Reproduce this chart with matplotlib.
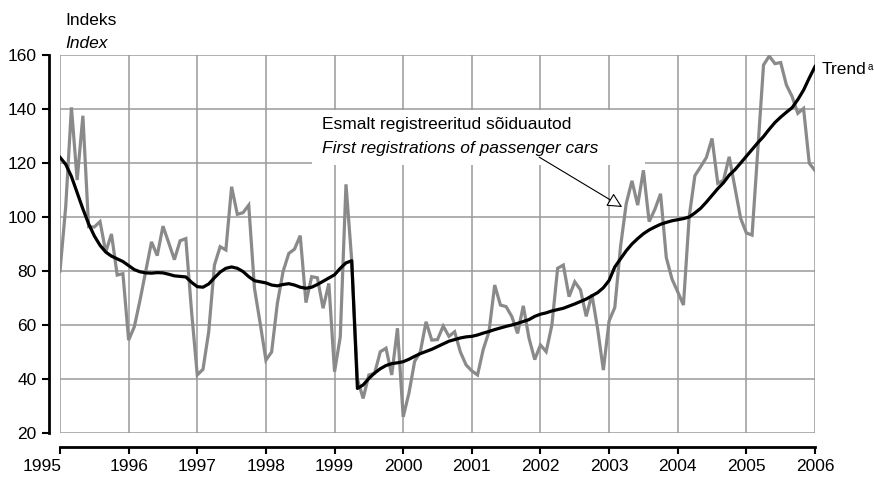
import numpy as np
import matplotlib
matplotlib.use("Agg")
import matplotlib.pyplot as plt
import matplotlib.transforms as mtransforms
from matplotlib.patches import Rectangle

plt.rcParams['font.family'] = ['Liberation Sans', 'DejaVu Sans']

# Monthly index of first registrations of passenger cars, Jan 1995 .. Jan 2006
registrations = [
    80.0, 103.8, 140.6, 113.7, 137.5, 96.4, 96.3, 98.3, 87.0, 93.7, 78.5, 79.0,
    54.4, 59.4, 69.3, 80.0, 90.8, 85.7, 96.6, 90.5, 84.2, 91.2, 92.0, 65.0,
    41.5, 43.6, 57.5, 82.2, 89.0, 87.8, 111.2, 101.0, 101.6, 104.4, 73.6, 60.6,
    47.0, 50.0, 68.0, 79.8, 86.5, 88.1, 93.1, 68.3, 77.9, 77.5, 66.2, 75.4,
    42.7, 55.6, 112.1, 84.0, 40.0, 32.8, 41.5, 42.1, 50.1, 51.4, 41.5, 58.8,
    26.0, 34.7, 46.5, 50.1, 61.2, 54.4, 54.6, 59.6, 55.8, 57.5, 50.0, 45.2,
    43.0, 41.5, 51.0, 57.5, 74.8, 67.4, 66.8, 63.1, 56.9, 67.1, 55.1, 47.2,
    52.6, 50.1, 60.0, 81.0, 82.2, 70.5, 76.0, 73.0, 63.2, 71.3, 58.5, 43.3,
    61.5, 66.5, 89.0, 105.0, 113.4, 104.4, 117.3, 98.3, 102.8, 108.6, 85.0, 77.0,
    72.3, 67.4, 100.0, 115.3, 118.6, 122.0, 129.1, 112.5, 113.6, 122.3, 111.0, 99.5,
    94.1, 93.3, 125.0, 156.3, 159.6, 156.8, 157.2, 148.9, 144.6, 138.4, 140.2, 119.9,
    117.2,
]

trend = [
    122.1, 119.5, 115.0, 109.0, 103.0, 97.5, 93.0, 89.5, 87.0, 85.5, 84.5, 83.5,
    82.0, 80.5, 79.7, 79.3, 79.2, 79.4, 79.3, 78.8, 78.2, 78.0, 77.8, 75.8,
    74.2, 74.0, 75.2, 77.5, 79.6, 81.0, 81.5, 81.0, 79.8, 77.9, 76.4, 76.0,
    75.6, 74.8, 74.5, 75.0, 75.3, 74.8, 74.0, 73.6, 74.0, 75.0, 76.2, 77.4,
    78.6, 81.0, 83.0, 83.8, 36.5, 37.8, 40.2, 42.2, 43.8, 45.0, 45.7, 46.0,
    46.4, 47.3, 48.4, 49.4, 50.2, 51.0, 52.0, 53.0, 54.0, 54.6, 55.2, 55.6,
    55.8, 56.3, 57.0, 57.6, 58.3, 58.9, 59.5, 60.0, 60.6, 61.3, 62.0, 63.2,
    64.0, 64.5, 65.2, 65.7, 66.2, 67.0, 67.8, 68.7, 69.6, 70.8, 72.0, 73.8,
    76.5, 81.5, 84.5, 87.5, 90.0, 92.0, 93.8, 95.2, 96.3, 97.3, 98.0, 98.6,
    99.0, 99.4, 100.0, 101.5, 103.2, 105.5, 108.0, 110.5, 112.7, 115.5, 117.5, 120.0,
    122.5, 125.0, 127.5, 129.8, 132.5, 135.0, 137.0, 138.8, 140.5, 143.5, 147.0, 151.5,
    155.7,
]

years = list(range(1995, 2007))
y_ticks = list(range(20, 161, 20))

x = years[0] + np.arange(len(registrations)) / 12.0

W, H = 874, 478
fig = plt.figure(figsize=(W / 100, H / 100), dpi=100)
ax = fig.add_axes([60 / W, 1 - 433 / H, 755 / W, 378 / H])

ax.set_xlim(years[0], years[-1])
ax.set_ylim(y_ticks[0], y_ticks[-1])
ax.set_xticks(years)
ax.set_yticks(y_ticks)

ax.grid(True, color='#9a9a9a', lw=1.1)
ax.set_axisbelow(True)
for gl in ax.get_xgridlines() + ax.get_ygridlines():
    gl.set_clip_on(False)

for side in ('top', 'right'):
    ax.spines[side].set_visible(False)
ax.spines['left'].set_position(('outward', 8))
ax.spines['bottom'].set_position(('outward', 10))
for side in ('left', 'bottom'):
    ax.spines[side].set_linewidth(2.0)
    ax.spines[side].set_color('black')
ax.tick_params(axis='both', direction='out', length=5, width=1.5,
               color='black', labelsize=12.5, pad=4)

# first year label sits left of its tick, clear of the value axis
first_label = ax.get_xticklabels()[0]
first_label.set_transform(first_label.get_transform() +
                          mtransforms.ScaledTranslation(-18 / 100, 0, fig.dpi_scale_trans))

ax.plot(x, registrations, color='#8a8a8a', lw=2.3, solid_joinstyle='miter', zorder=3)
ax.plot(x, trend, color='black', lw=2.3, zorder=4)

# white panel behind the series label
ax.add_patch(Rectangle((1998.67, 119.3), 4.85, 20.2, facecolor='white',
                       edgecolor='none', zorder=2))
ax.text(1998.82, 132.6, 'Esmalt registreeritud sõiduautod', fontsize=12.5,
        va='baseline', ha='left', zorder=5)
ax.text(1998.82, 123.7, 'First registrations of passenger cars', fontsize=12.5,
        style='italic', va='baseline', ha='left', zorder=5)
ax.annotate('', xy=(2003.19, 103.7), xytext=(2001.98, 122.2),
            arrowprops=dict(arrowstyle='-|>,head_length=0.9,head_width=0.45',
                            facecolor='white', edgecolor='black', lw=0.8,
                            shrinkA=0, shrinkB=0), zorder=5)

# trend label with superscript note marker
t = ax.annotate('Trend', xy=(822, H - 74), xycoords='figure pixels',
                fontsize=12.5, va='baseline', ha='left', annotation_clip=False)
ax.annotate('a', xy=(1.0, 1.0), xycoords=t, fontsize=7, va='top', ha='left',
            xytext=(0.3, 0), textcoords='offset points', annotation_clip=False)

# axis title
ax.annotate('Indeks', xy=(65, H - 25), xycoords='figure pixels', fontsize=12.5,
            va='baseline', ha='left', annotation_clip=False)
ax.annotate('Index', xy=(65, H - 48), xycoords='figure pixels', fontsize=12.5,
            style='italic', va='baseline', ha='left', annotation_clip=False)

fig.savefig('out.png', dpi=100)
